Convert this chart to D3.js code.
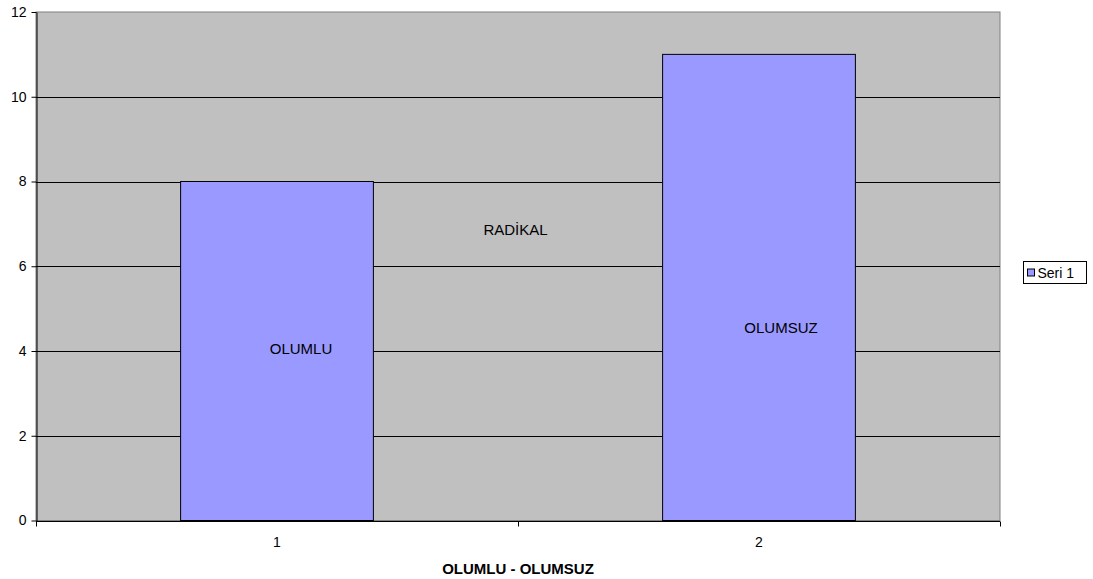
<!DOCTYPE html>
<html>
<head>
<meta charset="utf-8">
<script src="https://cdn.jsdelivr.net/npm/d3@7"></script>
<style>
  html, body { margin: 0; padding: 0; background: #fff; }
  svg { display: block; font-family: "Liberation Sans", Arial, sans-serif; }
</style>
</head>
<body>
<svg id="chart" width="1093" height="579"></svg>
<script>
// Chart data
const categories = ["1", "2"];
const values = [8, 11];
const barLabels = ["OLUMLU", "OLUMSUZ"];
const yTicks = [0, 2, 4, 6, 8, 10, 12];
const seriesName = "Seri 1";
const xTitle = "OLUMLU - OLUMSUZ";
const annotation = "RADİKAL";

const svg = d3.select("#chart");
const plot = { left: 36, top: 12, right: 1000, bottom: 520.5 };

const x = d3.scaleBand()
  .domain(categories)
  .range([plot.left, plot.right])
  .paddingInner(0.6)
  .paddingOuter(0.3);

const y = d3.scaleLinear().domain([0, 12]).range([plot.bottom, plot.top]);

// Plot background
svg.append("rect")
  .attr("x", plot.left).attr("y", plot.top)
  .attr("width", plot.right - plot.left).attr("height", plot.bottom - plot.top)
  .attr("fill", "#c0c0c0")
  .attr("stroke", "#808080").attr("stroke-width", 1);

// Horizontal gridlines
svg.append("g").selectAll("line")
  .data(yTicks.filter(d => d > 0 && d < 12))
  .join("line")
  .attr("x1", plot.left).attr("x2", plot.right)
  .attr("y1", d => Math.round(y(d)) + 0.5).attr("y2", d => Math.round(y(d)) + 0.5)
  .attr("stroke", "#000").attr("stroke-width", 1);

// Bars
svg.append("g").selectAll("rect")
  .data(values)
  .join("rect")
  .attr("x", (d, i) => x(categories[i]))
  .attr("y", d => y(d))
  .attr("width", x.bandwidth())
  .attr("height", d => plot.bottom - y(d))
  .attr("fill", "#9999ff")
  .attr("stroke", "#000").attr("stroke-width", 1);

// Labels inside bars
const labelY = [354, 332.5];
const labelDx = [24, 22];
svg.append("g").selectAll("text")
  .data(barLabels)
  .join("text")
  .attr("x", (d, i) => x(categories[i]) + x.bandwidth() / 2 + labelDx[i])
  .attr("y", (d, i) => labelY[i])
  .attr("text-anchor", "middle")
  .attr("font-size", 15)
  .text(d => d);

// Free-floating annotation
svg.append("text")
  .attr("x", 515.5).attr("y", 235)
  .attr("text-anchor", "middle")
  .attr("font-size", 15)
  .text(annotation);

// Y axis
const yAxis = svg.append("g")
  .attr("transform", `translate(${plot.left + 0.5},0)`)
  .call(d3.axisLeft(y).tickValues(yTicks).tickSize(5).tickPadding(5).tickSizeOuter(0));
yAxis.select(".domain").attr("stroke", "#000");
yAxis.selectAll("text").attr("font-size", 14).attr("font-family", "Liberation Sans, Arial, sans-serif").attr("fill", "#000");

// X axis
const xAxis = svg.append("g")
  .attr("transform", `translate(0,${Math.round(plot.bottom) + 0.5})`);
xAxis.append("line")
  .attr("x1", plot.left).attr("x2", plot.right)
  .attr("stroke", "#000");
const xEdges = [plot.left, (plot.left + plot.right) / 2, plot.right];
xAxis.selectAll(".tk").data(xEdges).join("line")
  .attr("class", "tk")
  .attr("x1", d => Math.round(d) + 0.5).attr("x2", d => Math.round(d) + 0.5)
  .attr("y1", 0).attr("y2", 5)
  .attr("stroke", "#000");
xAxis.selectAll(".lbl").data(categories).join("text")
  .attr("class", "lbl")
  .attr("x", d => x(d) + x.bandwidth() / 2)
  .attr("y", 25.5)
  .attr("text-anchor", "middle")
  .attr("font-size", 14)
  .text(d => d);

// X axis title
svg.append("text")
  .attr("x", 518).attr("y", 574)
  .attr("text-anchor", "middle")
  .attr("font-size", 15)
  .attr("font-weight", "bold")
  .text(xTitle);

// Legend
const legend = svg.append("g").attr("transform", "translate(1023.5,261.5)");
legend.append("rect")
  .attr("width", 63).attr("height", 22)
  .attr("fill", "#fff").attr("stroke", "#000");
legend.append("rect")
  .attr("x", 4).attr("y", 7.5).attr("width", 7).attr("height", 7)
  .attr("fill", "#9999ff").attr("stroke", "#000");
legend.append("text")
  .attr("x", 14).attr("y", 16)
  .attr("font-size", 14)
  .text(seriesName);
</script>
</body>
</html>
